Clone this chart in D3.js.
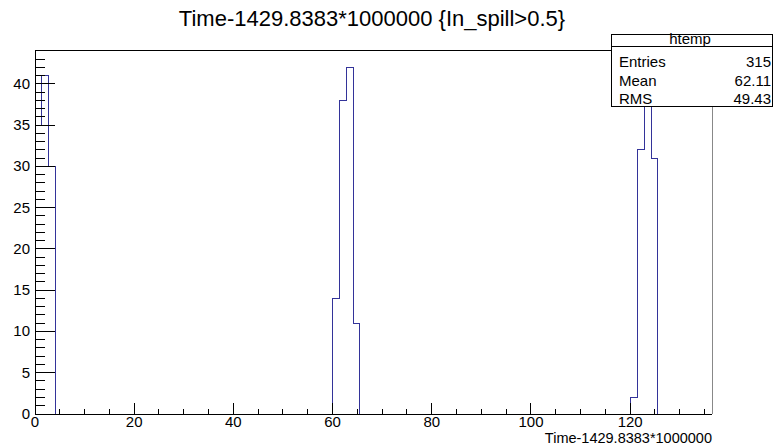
<!DOCTYPE html>
<html>
<head>
<meta charset="utf-8">
<script src="https://cdn.jsdelivr.net/npm/d3@7"></script>
<style>
    body { margin: 0; background: #fff; }
    svg { display: block; font-family: "Liberation Sans", Arial, Helvetica, sans-serif; }
    .frame line { stroke: #000; stroke-width: 1; shape-rendering: crispEdges; }
    .tick-line { stroke: #000; stroke-width: 1; shape-rendering: crispEdges; }
    .hist { fill: none; stroke: #333399; stroke-width: 1; shape-rendering: crispEdges; }
</style>
</head>
<body>
<div id="chart"></div>
<script>
    // histogram: 100 bins between xMin and xMax, only the filled bins are listed
    const histName = "htemp";
    const nBins = 100;
    const xMin = 0, xMax = 136.5;
    const filledBins = [0, 1, 2, 44, 45, 46, 47, 88, 89, 90, 91];
    const filledCounts = [35, 41, 30, 14, 38, 42, 11, 2, 32, 39, 31];
    const yMax = 44.1;

    const xTicks = [0, 20, 40, 60, 80, 100, 120];
    const yTicks = [0, 5, 10, 15, 20, 25, 30, 35, 40];
    const statLabels = ["Entries", "Mean", "RMS"];
    const statValues = ["315", "62.11", "49.43"];

    const titleText = "Time-1429.8383*1000000 {In_spill>0.5}";
    const xTitle = "Time-1429.8383*1000000";

    const W = 775, H = 446;
    const padL = 35, padR = 712, padT = 50, padB = 414;

    const svg = d3.select("#chart").append("svg")
        .attr("width", W).attr("height", H);
    svg.append("rect").attr("width", W).attr("height", H).attr("fill", "#fff");

    const x = d3.scaleLinear().domain([xMin, xMax]).range([padL, padR]);
    const y = d3.scaleLinear().domain([0, yMax]).range([padB, padT]);

    // full bin contents
    const counts = new Array(nBins).fill(0);
    filledBins.forEach((b, i) => counts[b] = filledCounts[i]);
    const bw = (xMax - xMin) / nBins;

    // step outline, like ROOT draws it
    const pts = [];
    counts.forEach((c, i) => {
        pts.push([x(xMin + i * bw), y(c)]);
        pts.push([x(xMin + (i + 1) * bw), y(c)]);
    });
    svg.append("path").attr("class", "hist")
        .attr("d", d3.line()(pts));

    // frame
    const fr = svg.append("g").attr("class", "frame");
    fr.append("line").attr("x1", padL).attr("x2", padR).attr("y1", padT).attr("y2", padT);
    fr.append("line").attr("x1", padR).attr("x2", padR).attr("y1", padT).attr("y2", padB).style("stroke", "#888");
    fr.append("line").attr("x1", padL).attr("x2", padR).attr("y1", padB).attr("y2", padB);
    fr.append("line").attr("x1", padL).attr("x2", padL).attr("y1", padT).attr("y2", padB);

    // x ticks (inward), major 20, minor 5
    const xMinor = d3.range(0, xMax, 5);
    svg.append("g").selectAll("line").data(xMinor).join("line")
        .attr("class", "tick-line")
        .attr("x1", d => x(d)).attr("x2", d => x(d))
        .attr("y1", padB)
        .attr("y2", d => d % 20 === 0 ? padB - 11 : padB - 5.5);

    svg.append("g").selectAll("text").data(xTicks).join("text")
        .attr("x", d => x(d)).attr("y", 426.5)
        .attr("text-anchor", "middle")
        .attr("font-size", 15)
        .text(d => d);

    // y ticks, major 5, minor 1
    const yMinor = d3.range(0, yMax, 1);
    svg.append("g").selectAll("line").data(yMinor).join("line")
        .attr("class", "tick-line")
        .attr("y1", d => y(d)).attr("y2", d => y(d))
        .attr("x1", padL)
        .attr("x2", d => d % 5 === 0 ? padL + 20 : padL + 10);

    svg.append("g").selectAll("text").data(yTicks).join("text")
        .attr("x", 30).attr("y", d => y(d) + 5)
        .attr("text-anchor", "end")
        .attr("font-size", 15)
        .text(d => d);

    // titles
    svg.append("text")
        .attr("x", 372).attr("y", 26)
        .attr("font-size", 22)
        .attr("text-anchor", "middle")
        .text(titleText);

    svg.append("text")
        .attr("x", padR).attr("y", 442.8)
        .attr("font-size", 14.5)
        .attr("text-anchor", "end")
        .text(xTitle);

    // stats box
    const sb = svg.append("g");
    sb.append("rect")
        .attr("x", 611.5).attr("y", 34.5).attr("width", 161).attr("height", 72)
        .attr("fill", "#fff").attr("stroke", "#000");
    sb.append("line")
        .attr("x1", 611.5).attr("x2", 772.5).attr("y1", 46.5).attr("y2", 46.5)
        .attr("stroke", "#000");
    sb.append("text")
        .attr("x", 690).attr("y", 44)
        .attr("font-size", 15)
        .attr("text-anchor", "middle")
        .text(histName);
    sb.selectAll(".sl").data(statLabels).join("text").attr("class", "sl")
        .attr("x", 619).attr("y", (d, i) => 67 + i * 18.5)
        .attr("font-size", 15)
        .text(d => d);
    sb.selectAll(".sv").data(statValues).join("text").attr("class", "sv")
        .attr("x", 771).attr("y", (d, i) => 67 + i * 18.5)
        .attr("font-size", 15)
        .attr("text-anchor", "end")
        .text(d => d);
</script>
</body>
</html>
